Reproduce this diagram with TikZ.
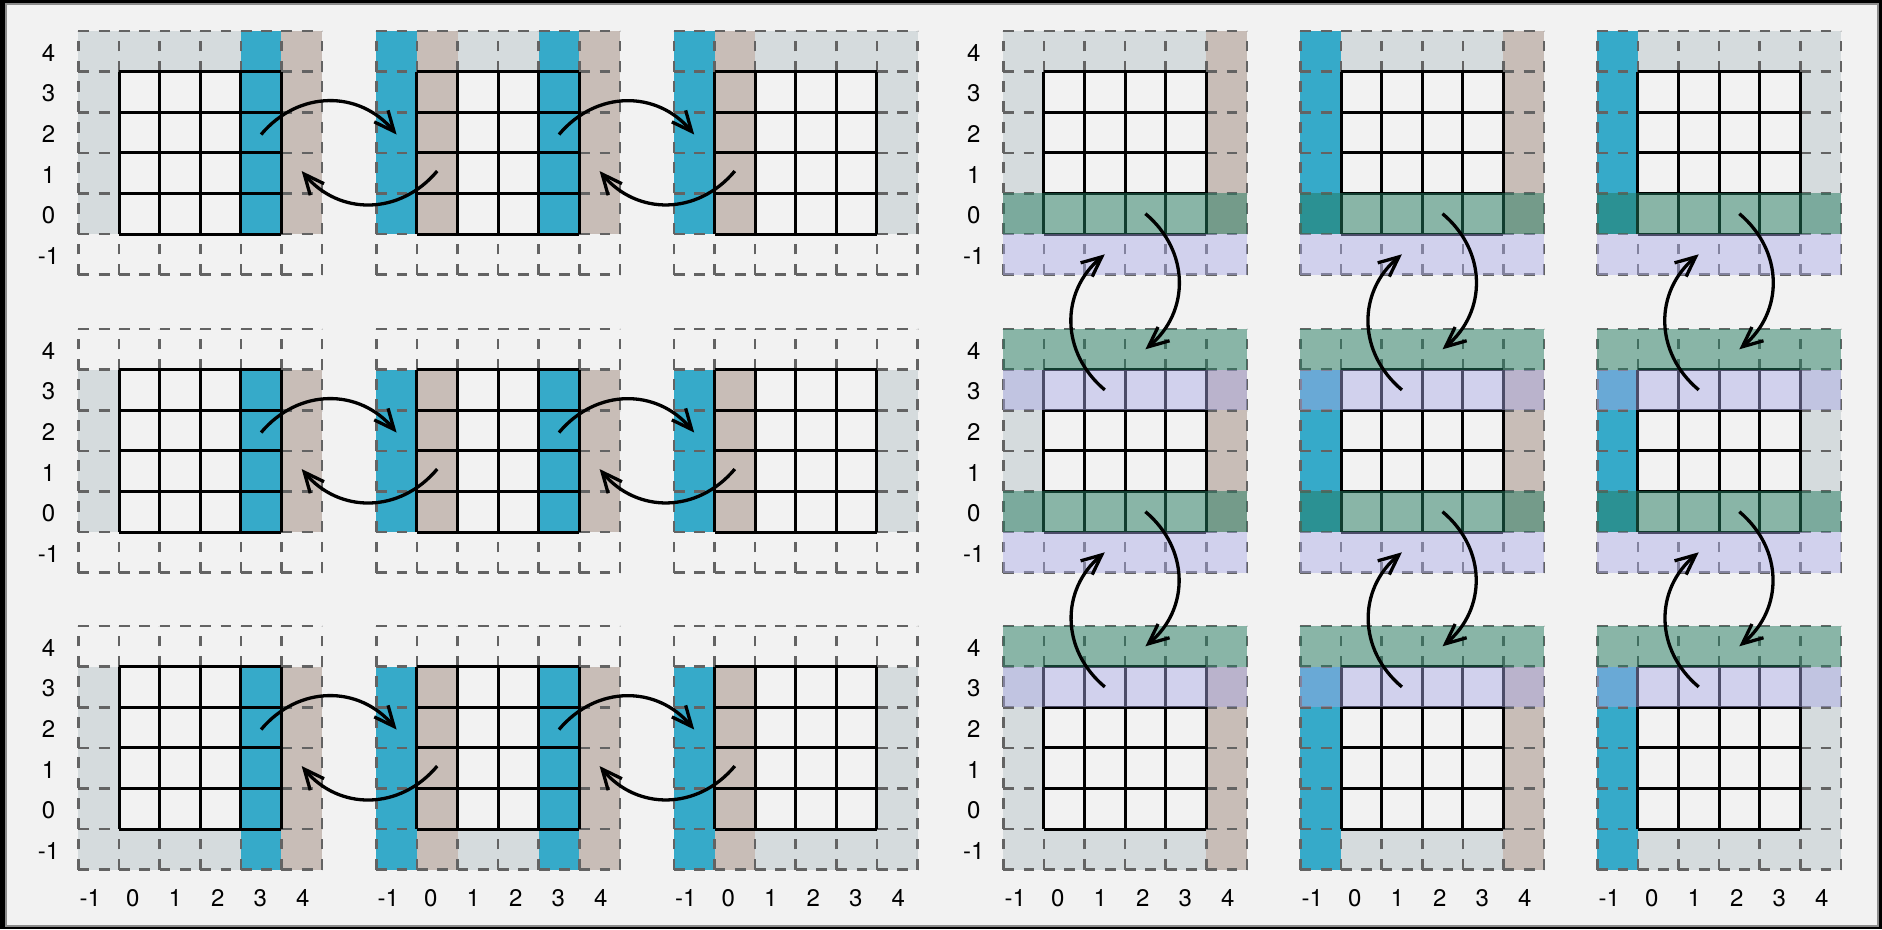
\documentclass[tikz,border=0pt]{standalone}
\usepackage{fontspec}
\setmainfont{TeX Gyre Heros}
\usetikzlibrary{arrows.meta}
\definecolor{bg}{HTML}{F2F2F2}
\definecolor{lg}{HTML}{D5DBDD}
\definecolor{bl}{HTML}{36AAC9}
\definecolor{tn}{HTML}{C8BDB7}
\definecolor{gr}{HTML}{227A5E}
\definecolor{lv}{HTML}{A9A9E7}
\definecolor{dg}{HTML}{636363}
\tikzset{
  dgrid/.style={draw=dg, line width=2.6pt, dash pattern=on 10.8pt off 9.5pt, step=1},
  sgrid/.style={draw=black, line width=3pt, step=1},
  ovg/.style={fill=gr, fill opacity=0.5},
  ovl/.style={fill=lv, fill opacity=0.45},
  xarrow/.style={draw=black, line width=3.3pt, looseness=1.1, -{Straight Barb[length=20pt,width=18pt]}},
  lbl/.style={font=\fontsize{24}{24}\selectfont, inner sep=0pt, text=black},
  cellsys/.style 2 args={shift={(#1pt,#2pt)}, x=40.6pt, y=40.6pt},
}
\newcommand{\Pnl}[5]{%
  \begin{scope}[cellsys={#2}{#3}]
    #4
    \draw[dgrid] (-1,-1) grid (5,5);
    \draw[sgrid] (0,0) grid (4,4);
    #5
    \coordinate (#1-r) at (3.5,2.45);
    \coordinate (#1-l) at (-0.5,2.45);
    \coordinate (#1-ls) at (0.5,1.55);
    \coordinate (#1-rt) at (4.5,1.55);
    \coordinate (#1-d) at (2.5,0.5);
    \coordinate (#1-t) at (2.5,4.5);
    \coordinate (#1-u) at (1.5,3.5);
    \coordinate (#1-b) at (1.5,-0.5);
  \end{scope}}
\begin{document}
\begin{tikzpicture}[x=1pt,y=1pt]
\useasboundingbox (0,0) rectangle (1882,-929);
\fill[black] (0,0) rectangle (1882,-929);
\fill[bg] (6,-4) rectangle (1878,-926);
\draw[black!45, line width=1.5pt] (6,-4) rectangle (1878,-926);

% ---------- group 1 : horizontal exchange ----------
\Pnl{P11}{119.0}{-234}{%
  \fill[lg] (-1,0) rectangle (0,5); \fill[lg] (0,4) rectangle (3,5);
  \fill[bl] (3,0) rectangle (4,5); \fill[tn] (4,0) rectangle (5,5);}{}
\Pnl{P12}{416.9}{-234}{%
  \fill[bl] (-1,0) rectangle (0,5); \fill[tn] (0,0) rectangle (1,5);
  \fill[lg] (1,4) rectangle (3,5);
  \fill[bl] (3,0) rectangle (4,5); \fill[tn] (4,0) rectangle (5,5);}{}
\Pnl{P13}{714.5}{-234}{%
  \fill[bl] (-1,0) rectangle (0,5); \fill[tn] (0,0) rectangle (1,5);
  \fill[lg] (1,4) rectangle (5,5); \fill[lg] (4,0) rectangle (5,4);}{}
\Pnl{P21}{119.0}{-532}{%
  \fill[lg] (-1,0) rectangle (0,4);
  \fill[bl] (3,0) rectangle (4,4); \fill[tn] (4,0) rectangle (5,4);}{}
\Pnl{P22}{416.9}{-532}{%
  \fill[bl] (-1,0) rectangle (0,4); \fill[tn] (0,0) rectangle (1,4);
  \fill[bl] (3,0) rectangle (4,4); \fill[tn] (4,0) rectangle (5,4);}{}
\Pnl{P23}{714.5}{-532}{%
  \fill[bl] (-1,0) rectangle (0,4); \fill[tn] (0,0) rectangle (1,4);
  \fill[lg] (4,0) rectangle (5,4);}{}
\Pnl{P31}{119.0}{-829}{%
  \fill[lg] (-1,-1) rectangle (0,4); \fill[lg] (0,-1) rectangle (3,0);
  \fill[bl] (3,-1) rectangle (4,4); \fill[tn] (4,-1) rectangle (5,4);}{}
\Pnl{P32}{416.9}{-829}{%
  \fill[bl] (-1,-1) rectangle (0,4); \fill[tn] (0,-1) rectangle (1,4);
  \fill[lg] (1,-1) rectangle (3,0);
  \fill[bl] (3,-1) rectangle (4,4); \fill[tn] (4,-1) rectangle (5,4);}{}
\Pnl{P33}{714.5}{-829}{%
  \fill[bl] (-1,-1) rectangle (0,4); \fill[tn] (0,-1) rectangle (1,4);
  \fill[lg] (1,-1) rectangle (5,0); \fill[lg] (4,0) rectangle (5,4);}{}

% ---------- group 2 : vertical exchange ----------
\Pnl{P14}{1043.9}{-234}{%
  \fill[lg] (-1,0) rectangle (0,5); \fill[lg] (0,4) rectangle (4,5);
  \fill[tn] (4,0) rectangle (5,5);}{%
  \fill[ovg] (-1,0) rectangle (5,1); \fill[ovl] (-1,-1) rectangle (5,0);}
\Pnl{P15}{1341.0}{-234}{%
  \fill[bl] (-1,0) rectangle (0,5); \fill[lg] (0,4) rectangle (4,5);
  \fill[tn] (4,0) rectangle (5,5);}{%
  \fill[ovg] (-1,0) rectangle (5,1); \fill[ovl] (-1,-1) rectangle (5,0);}
\Pnl{P16}{1637.8}{-234}{%
  \fill[bl] (-1,0) rectangle (0,5); \fill[lg] (0,4) rectangle (5,5);
  \fill[lg] (4,0) rectangle (5,4);}{%
  \fill[ovg] (-1,0) rectangle (5,1); \fill[ovl] (-1,-1) rectangle (5,0);}
\Pnl{P24}{1043.9}{-532}{%
  \fill[lg] (-1,0) rectangle (0,4); \fill[tn] (4,0) rectangle (5,4);}{%
  \fill[ovg] (-1,4) rectangle (5,5); \fill[ovl] (-1,3) rectangle (5,4);
  \fill[ovg] (-1,0) rectangle (5,1); \fill[ovl] (-1,-1) rectangle (5,0);}
\Pnl{P25}{1341.0}{-532}{%
  \fill[bl] (-1,0) rectangle (0,4); \fill[tn] (4,0) rectangle (5,4);}{%
  \fill[ovg] (-1,4) rectangle (5,5); \fill[ovl] (-1,3) rectangle (5,4);
  \fill[ovg] (-1,0) rectangle (5,1); \fill[ovl] (-1,-1) rectangle (5,0);}
\Pnl{P26}{1637.8}{-532}{%
  \fill[bl] (-1,0) rectangle (0,4); \fill[lg] (4,0) rectangle (5,4);}{%
  \fill[ovg] (-1,4) rectangle (5,5); \fill[ovl] (-1,3) rectangle (5,4);
  \fill[ovg] (-1,0) rectangle (5,1); \fill[ovl] (-1,-1) rectangle (5,0);}
\Pnl{P34}{1043.9}{-829}{%
  \fill[lg] (-1,-1) rectangle (0,4); \fill[lg] (0,-1) rectangle (4,0);
  \fill[tn] (4,-1) rectangle (5,4);}{%
  \fill[ovg] (-1,4) rectangle (5,5); \fill[ovl] (-1,3) rectangle (5,4);}
\Pnl{P35}{1341.0}{-829}{%
  \fill[bl] (-1,-1) rectangle (0,4); \fill[lg] (0,-1) rectangle (4,0);
  \fill[tn] (4,-1) rectangle (5,4);}{%
  \fill[ovg] (-1,4) rectangle (5,5); \fill[ovl] (-1,3) rectangle (5,4);}
\Pnl{P36}{1637.8}{-829}{%
  \fill[bl] (-1,-1) rectangle (0,4); \fill[lg] (0,-1) rectangle (5,0);
  \fill[lg] (4,0) rectangle (5,4);}{%
  \fill[ovg] (-1,4) rectangle (5,5); \fill[ovl] (-1,3) rectangle (5,4);}

% ---------- labels ----------
\foreach \oy [count=\r] in {-234,-532,-829} {
  \foreach \k [count=\i] in {4,3,2,1,0,-1} {
    \node[lbl] (rowA-\r-\i) at (48.5,{\oy+40.6*(\k+0.5)-1.5}) {\k};
    \node[lbl] (rowB-\r-\i) at (973.8,{\oy+40.6*(\k+0.5)-1.5}) {\k};
  }
}
\foreach \L [count=\p] in {78.4,376.3,673.9,1003.3,1300.4,1597.2} {
  \foreach \k/\dx [count=\i] in {-1/12,0/54.5,1/97,2/139.5,3/182,4/224.5} {
    \node[lbl] (col-\p-\i) at ({\L+\dx},-898) {\k};
  }
}

% ---------- arrows ----------
\foreach \r in {1,2,3} {
  \draw[xarrow] (P\r1-r) to[out=50,in=130] (P\r2-l);
  \draw[xarrow] (P\r2-ls) to[out=-130,in=-50] (P\r1-rt);
  \draw[xarrow] (P\r2-r) to[out=50,in=130] (P\r3-l);
  \draw[xarrow] (P\r3-ls) to[out=-130,in=-50] (P\r2-rt);
}
\foreach \c in {4,5,6} {
  \draw[xarrow] (P1\c-d) to[out=-40,in=40] (P2\c-t);
  \draw[xarrow] (P2\c-u) to[out=140,in=-140] (P1\c-b);
  \draw[xarrow] (P2\c-d) to[out=-40,in=40] (P3\c-t);
  \draw[xarrow] (P3\c-u) to[out=140,in=-140] (P2\c-b);
}
\end{tikzpicture}
\end{document}
